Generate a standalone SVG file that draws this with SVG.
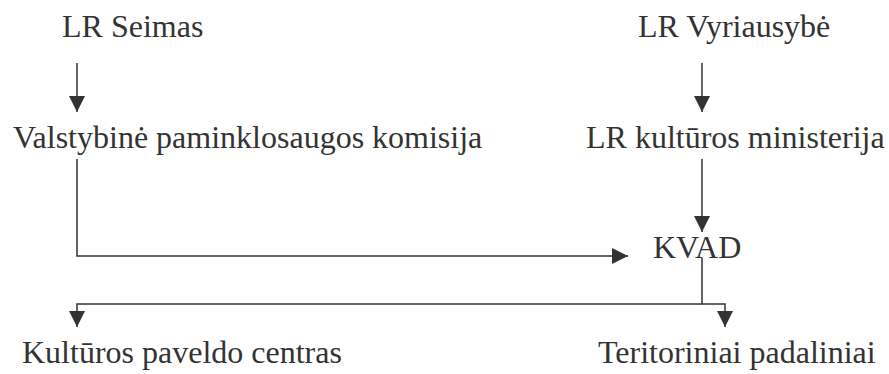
<svg xmlns="http://www.w3.org/2000/svg" width="889" height="374" viewBox="0 0 889 374">
<style>
  text { font-family: "Liberation Serif", "Times New Roman", serif; font-size: 32px; fill: #333; }
  .c { fill: none; stroke: #333; stroke-width: 1.5; marker-end: url(#ah); }
</style>
<defs>
  <marker id="ah" viewBox="0 0 16 16" refX="16" refY="8" markerWidth="16" markerHeight="16" markerUnits="userSpaceOnUse" orient="auto">
    <path d="M0,0 L16,8 L0,16 z" fill="#333"/>
  </marker>
</defs>
<rect width="889" height="374" fill="#fff"/>
<g id="seimas"><text x="62" y="37">LR Seimas</text></g>
<g id="vyriausybe"><text x="638" y="37">LR Vyriausybė</text></g>
<g id="komisija"><text x="13" y="148">Valstybinė paminklosaugos komisija</text></g>
<g id="ministerija"><text x="586" y="148">LR kultūros ministerija</text></g>
<g id="kvad"><text x="653" y="258">KVAD</text></g>
<g id="centras"><text x="22" y="363">Kultūros paveldo centras</text></g>
<g id="padaliniai"><text x="598" y="363">Teritoriniai padaliniai</text></g>
<g id="connectors">
  <path class="c" d="M77,63 V112"/>
  <path class="c" d="M702,63 V112"/>
  <path class="c" d="M77,159 V256 H628"/>
  <path class="c" d="M702,159 V232"/>
  <path class="c" d="M702,258 V304 H725 V327"/>
  <path class="c" d="M702,304 H77 V327"/>
</g>
</svg>
